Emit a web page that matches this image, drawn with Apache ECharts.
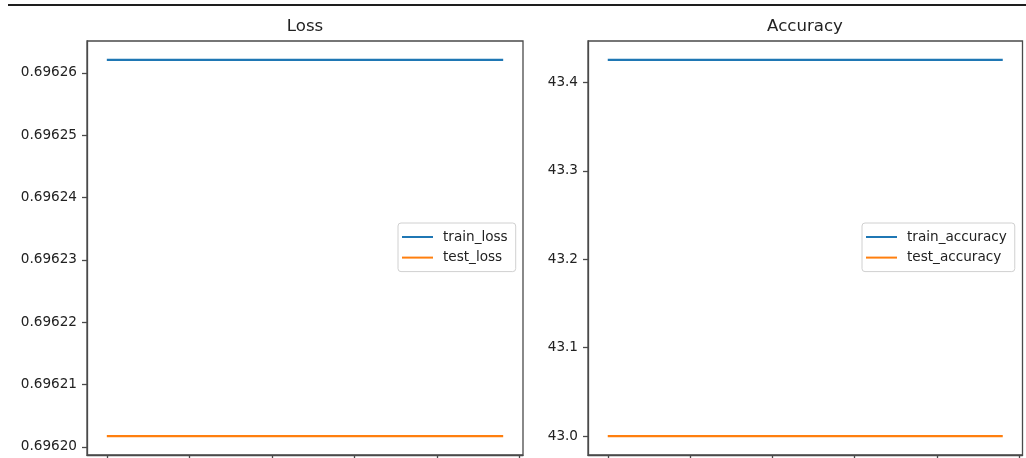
<!DOCTYPE html>
<html>
<head>
<meta charset="utf-8">
<script src="https://cdn.jsdelivr.net/npm/echarts@6/dist/echarts.min.js"></script>
<style>
  html, body { margin: 0; padding: 0; background: #ffffff; }
  #chart { width: 1026px; height: 458px; }
</style>
</head>
<body>
<div id="chart"></div>
<script>
// Training history: one value per epoch
const epochs = [0, 1, 2, 3, 4, 5, 6, 7, 8, 9, 10, 11, 12, 13, 14, 15, 16, 17, 18, 19, 20, 21, 22, 23, 24];
const trainLoss = [0.6962621, 0.6962621, 0.6962621, 0.6962621, 0.6962621, 0.6962621, 0.6962621, 0.6962621, 0.6962621, 0.6962621, 0.6962621, 0.6962621, 0.6962621, 0.6962621, 0.6962621, 0.6962621, 0.6962621, 0.6962621, 0.6962621, 0.6962621, 0.6962621, 0.6962621, 0.6962621, 0.6962621, 0.6962621];
const testLoss = [0.6962017, 0.6962017, 0.6962017, 0.6962017, 0.6962017, 0.6962017, 0.6962017, 0.6962017, 0.6962017, 0.6962017, 0.6962017, 0.6962017, 0.6962017, 0.6962017, 0.6962017, 0.6962017, 0.6962017, 0.6962017, 0.6962017, 0.6962017, 0.6962017, 0.6962017, 0.6962017, 0.6962017, 0.6962017];
const trainAccuracy = [43.4255, 43.4255, 43.4255, 43.4255, 43.4255, 43.4255, 43.4255, 43.4255, 43.4255, 43.4255, 43.4255, 43.4255, 43.4255, 43.4255, 43.4255, 43.4255, 43.4255, 43.4255, 43.4255, 43.4255, 43.4255, 43.4255, 43.4255, 43.4255, 43.4255];
const testAccuracy = [43.0, 43.0, 43.0, 43.0, 43.0, 43.0, 43.0, 43.0, 43.0, 43.0, 43.0, 43.0, 43.0, 43.0, 43.0, 43.0, 43.0, 43.0, 43.0, 43.0, 43.0, 43.0, 43.0, 43.0, 43.0];

// Tick positions
const epochTicks = [0, 5, 10, 15, 20, 25];
const lossTicks = [0.69620, 0.69621, 0.69622, 0.69623, 0.69624, 0.69625, 0.69626];
const accuracyTicks = [43.0, 43.1, 43.2, 43.3, 43.4];

const BLUE = '#1f77b4';
const ORANGE = '#ff7f0e';
const FONT = 'DejaVu Sans';
const TEXT = '#222222';
const SPINE = '#4a4a4a';

// 5% padding around the data range on each side
function padded(arrays) {
  const all = [].concat(...arrays);
  const lo = Math.min(...all), hi = Math.max(...all);
  const pad = (hi - lo) * 0.05;
  return [lo - pad, hi + pad];
}
const [xMin, xMax] = padded([epochs]);
const [lossMin, lossMax] = padded([trainLoss, testLoss]);
const [accMin, accMax] = padded([trainAccuracy, testAccuracy]);

const pairs = (ys) => epochs.map((e, i) => [e, ys[i]]);

function xAxisFor(gridIndex) {
  return {
    type: 'value', gridIndex, min: xMin, max: xMax,
    axisLine: { show: true, onZero: false, lineStyle: { color: SPINE, width: 1.3 } },
    axisTick: { show: true, length: 5, customValues: epochTicks, lineStyle: { color: SPINE, width: 1.3 } },
    axisLabel: { show: false, customValues: epochTicks },
    splitLine: { show: false }
  };
}
function yAxisFor(gridIndex, min, max, ticks, digits) {
  return {
    type: 'value', gridIndex, min, max,
    axisLine: { show: true, onZero: false, lineStyle: { color: SPINE, width: 1.3 } },
    axisTick: { show: true, length: 5, customValues: ticks, lineStyle: { color: SPINE, width: 1.3 } },
    axisLabel: {
      customValues: ticks, margin: 10, color: TEXT, fontFamily: FONT, fontSize: 13.6,
      formatter: (v) => v.toFixed(digits)
    },
    splitLine: { show: false }
  };
}
function lineSeries(name, ys, color, idx) {
  return {
    name, type: 'line', xAxisIndex: idx, yAxisIndex: idx,
    data: pairs(ys), showSymbol: false, symbol: 'none', color,
    lineStyle: { color, width: 2.2 }, animation: false
  };
}
const legendCommon = {
  orient: 'vertical', icon: 'rect', itemWidth: 31, itemHeight: 2, itemGap: 4.6,
  backgroundColor: 'rgba(255,255,255,0.9)', borderColor: '#d0d0d0', borderWidth: 1, borderRadius: 3,
  padding: [6, 8, 6, 4],
  textStyle: { fontFamily: FONT, fontSize: 13.6, color: TEXT, lineHeight: 16, padding: [0, 0, 0, 5] }
};

const chart = echarts.init(document.getElementById('chart'), null, { renderer: 'canvas' });
chart.setOption({
  backgroundColor: '#ffffff',
  animation: false,
  title: [
    { text: 'Loss', left: 305, top: 18, textAlign: 'center', padding: 0,
      textStyle: { fontFamily: FONT, fontSize: 16.6, fontWeight: 'normal', color: TEXT } },
    { text: 'Accuracy', left: 805, top: 18, textAlign: 'center', padding: 0,
      textStyle: { fontFamily: FONT, fontSize: 16.6, fontWeight: 'normal', color: TEXT } }
  ],
  grid: [
    { left: 87, right: 503, top: 41, bottom: 3, show: true, borderColor: SPINE, borderWidth: 1.3, backgroundColor: '#ffffff' },
    { left: 588, right: 3.5, top: 41, bottom: 3, show: true, borderColor: SPINE, borderWidth: 1.3, backgroundColor: '#ffffff' }
  ],
  xAxis: [xAxisFor(0), xAxisFor(1)],
  yAxis: [
    yAxisFor(0, lossMin, lossMax, lossTicks, 5),
    yAxisFor(1, accMin, accMax, accuracyTicks, 1)
  ],
  legend: [
    Object.assign({}, legendCommon, { left: 398, top: 223, data: ['train_loss', 'test_loss'] }),
    Object.assign({}, legendCommon, { left: 862, top: 223, data: ['train_accuracy', 'test_accuracy'] })
  ],
  series: [
    lineSeries('train_loss', trainLoss, BLUE, 0),
    lineSeries('test_loss', testLoss, ORANGE, 0),
    lineSeries('train_accuracy', trainAccuracy, BLUE, 1),
    lineSeries('test_accuracy', testAccuracy, ORANGE, 1)
  ],
  graphic: [
    // rule across the top of the page
    { type: 'line', shape: { x1: 8, y1: 5, x2: 1026, y2: 5 }, style: { stroke: '#1e1e1e', lineWidth: 2 }, z: 10 }
  ]
});
</script>
</body>
</html>
